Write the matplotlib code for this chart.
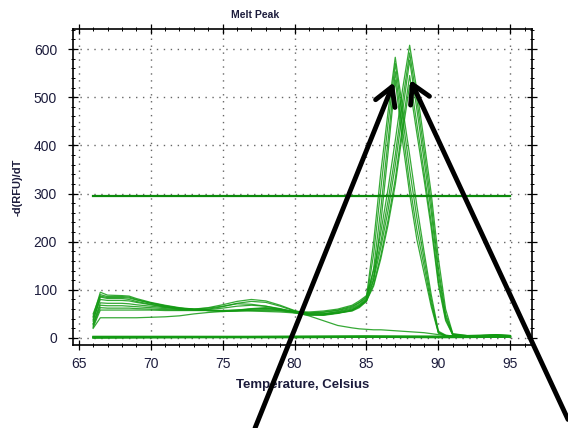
import matplotlib.pyplot as plt
from matplotlib.ticker import MultipleLocator

plt.rcParams['font.family'] = ['Liberation Sans', 'DejaVu Sans']

# temperature steps shared by the sample curves
temps = [66.0, 66.5, 67.0, 68.0, 68.5, 69.0, 70.0, 71.0, 72.0, 73.0, 74.0, 75.0,
         76.0, 77.0, 78.0, 79.0, 80.0, 81.0, 82.0, 83.0, 84.0, 84.5, 85.0, 85.5,
         86.0, 86.5, 87.0, 87.5, 88.0, 88.5, 89.0, 89.5, 90.0, 90.5, 91.0, 92.0,
         93.0, 94.0, 95.0]

# positive samples, peak near 87 C
left_1 = [45, 95, 89, 88, 87, 82, 74, 68, 63, 60, 58, 57, 58, 60, 61, 58, 54, 52, 54, 58,
          66, 74, 86, 200, 345, 470, 583, 480, 380, 275, 180, 90, 14, 6, 4, 4, 4, 6, 5]
left_2 = [35, 85, 82, 82, 80, 76, 70, 65, 61, 59, 57, 56, 58, 61, 63, 60, 55, 50, 50, 54,
          60, 68, 80, 175, 310, 445, 570, 460, 350, 250, 165, 80, 12, 5, 4, 4, 5, 6, 4]
left_3 = [30, 73, 72, 72, 71, 69, 66, 63, 60, 60, 62, 66, 71, 70, 66, 60, 52, 47, 48, 52,
          58, 66, 78, 145, 270, 410, 553, 435, 320, 225, 150, 72, 11, 5, 3, 3, 4, 5, 4]
left_4 = [22, 58, 58, 58, 58, 58, 58, 57, 57, 57, 57, 57, 57, 56, 55, 54, 52, 50, 50, 52,
          56, 63, 76, 120, 240, 385, 536, 410, 300, 205, 135, 65, 10, 4, 3, 3, 4, 5, 3]

# positive samples, peak near 88 C
right_1 = [50, 90, 86, 86, 85, 80, 73, 67, 62, 59, 57, 55, 56, 58, 59, 57, 55, 54, 56, 60,
           68, 77, 88, 140, 220, 310, 410, 515, 608, 515, 410, 300, 165, 60, 9, 5, 6, 7, 5]
right_2 = [42, 87, 84, 84, 83, 79, 72, 66, 62, 59, 57, 56, 57, 60, 62, 59, 55, 52, 53, 57,
           64, 73, 84, 130, 200, 285, 380, 490, 592, 495, 390, 280, 145, 50, 8, 5, 5, 6, 5]
right_3 = [38, 80, 78, 78, 77, 74, 69, 64, 61, 60, 63, 69, 76, 80, 77, 68, 57, 50, 50, 55,
           62, 70, 82, 122, 188, 265, 358, 468, 577, 475, 370, 262, 132, 45, 7, 4, 5, 6, 5]
right_4 = [28, 68, 67, 67, 66, 65, 63, 61, 59, 58, 60, 65, 72, 76, 74, 66, 56, 49, 48, 52,
           58, 66, 78, 112, 172, 245, 330, 440, 545, 445, 345, 240, 118, 40, 6, 4, 4, 6, 4]
right_5 = [25, 63, 62, 62, 62, 61, 60, 59, 58, 58, 59, 62, 66, 68, 66, 61, 54, 48, 47, 51,
           57, 65, 77, 108, 165, 235, 318, 425, 525, 425, 330, 228, 110, 36, 6, 4, 4, 5, 4]

# sample without a peak
no_peak = [20, 42, 42, 42, 42, 42, 43, 44, 46, 50, 53, 55, 56, 57, 57, 56, 54, 46, 36, 26,
           21, 19, 18, 17, 17, 16, 15, 14, 13, 12, 11, 9, 7, 5, 4, 3, 3, 2, 2]

# negative controls
neg_temps = [66, 70, 75, 80, 85, 90, 95]
neg_1 = [1, 1, 2, 2, 2, 2, 3]
neg_2 = [2, 2, 2, 3, 3, 3, 4]
neg_3 = [0, 1, 1, 1, 2, 1, 2]
neg_4 = [3, 3, 3, 3, 4, 3, 3]

threshold = 295
thr_range = [66, 95]

green = '#139a13'
txt = '#1c1c3c'

fig = plt.figure(figsize=(5.68, 4.28), dpi=100)
ax = fig.add_axes([0.1285, 0.194, 0.808, 0.738])

for c in [left_1, left_2, left_3, left_4, right_1, right_2, right_3, right_4, right_5, no_peak]:
    ax.plot(temps, c, color=green, lw=0.9, alpha=0.85)
for c in [neg_1, neg_2, neg_3, neg_4]:
    ax.plot(neg_temps, c, color=green, lw=1.2)

ax.plot(thr_range, [threshold, threshold], color='#0b8a0b', lw=1.6)

ax.set_xlim(64.6, 96.5)
ax.set_ylim(-14.5, 641.5)
ax.xaxis.set_major_locator(MultipleLocator(5))
ax.xaxis.set_minor_locator(MultipleLocator(1))
ax.yaxis.set_major_locator(MultipleLocator(100))
ax.yaxis.set_minor_locator(MultipleLocator(20))
ax.grid(True, which='major', color='#666666', linestyle=(0, (1, 4)), lw=1.0)
ax.set_axisbelow(True)

for s in ax.spines.values():
    s.set_linewidth(1.2)
ax.tick_params(which='both', direction='inout', top=True, right=True, colors='black',
               labelcolor=txt, labelsize=10)
ax.tick_params(which='major', length=7, width=0.9)
ax.tick_params(which='minor', length=3.5, width=0.7)
ax.tick_params(axis='x', which='major', pad=5)
ax.tick_params(axis='y', which='major', pad=8)

ax.set_xlabel('Temperature, Celsius', fontsize=9.5, fontweight='bold', color=txt, labelpad=6)
ax.set_ylabel('-d(RFU)/dT', fontsize=8, fontweight='bold', color=txt, labelpad=8)
fig.text(255 / 568, 1 - 15 / 428, 'Melt Peak', fontsize=7.5, fontweight='bold',
         color=txt, ha='center', va='center')

# arrows pointing at the two peak groups
arrow = dict(arrowstyle='->,head_length=1.3,head_width=0.75', lw=3.5, color='black',
             shrinkA=0, shrinkB=0)
ax.annotate('', xy=(86.9, 531), xycoords='data', xytext=(0.449, 0.0),
            textcoords='figure fraction', arrowprops=arrow, annotation_clip=False)
ax.annotate('', xy=(88.05, 536), xycoords='data', xytext=(1.0, 0.02),
            textcoords='figure fraction', arrowprops=arrow, annotation_clip=False)

fig.savefig('out.png', dpi=100)
